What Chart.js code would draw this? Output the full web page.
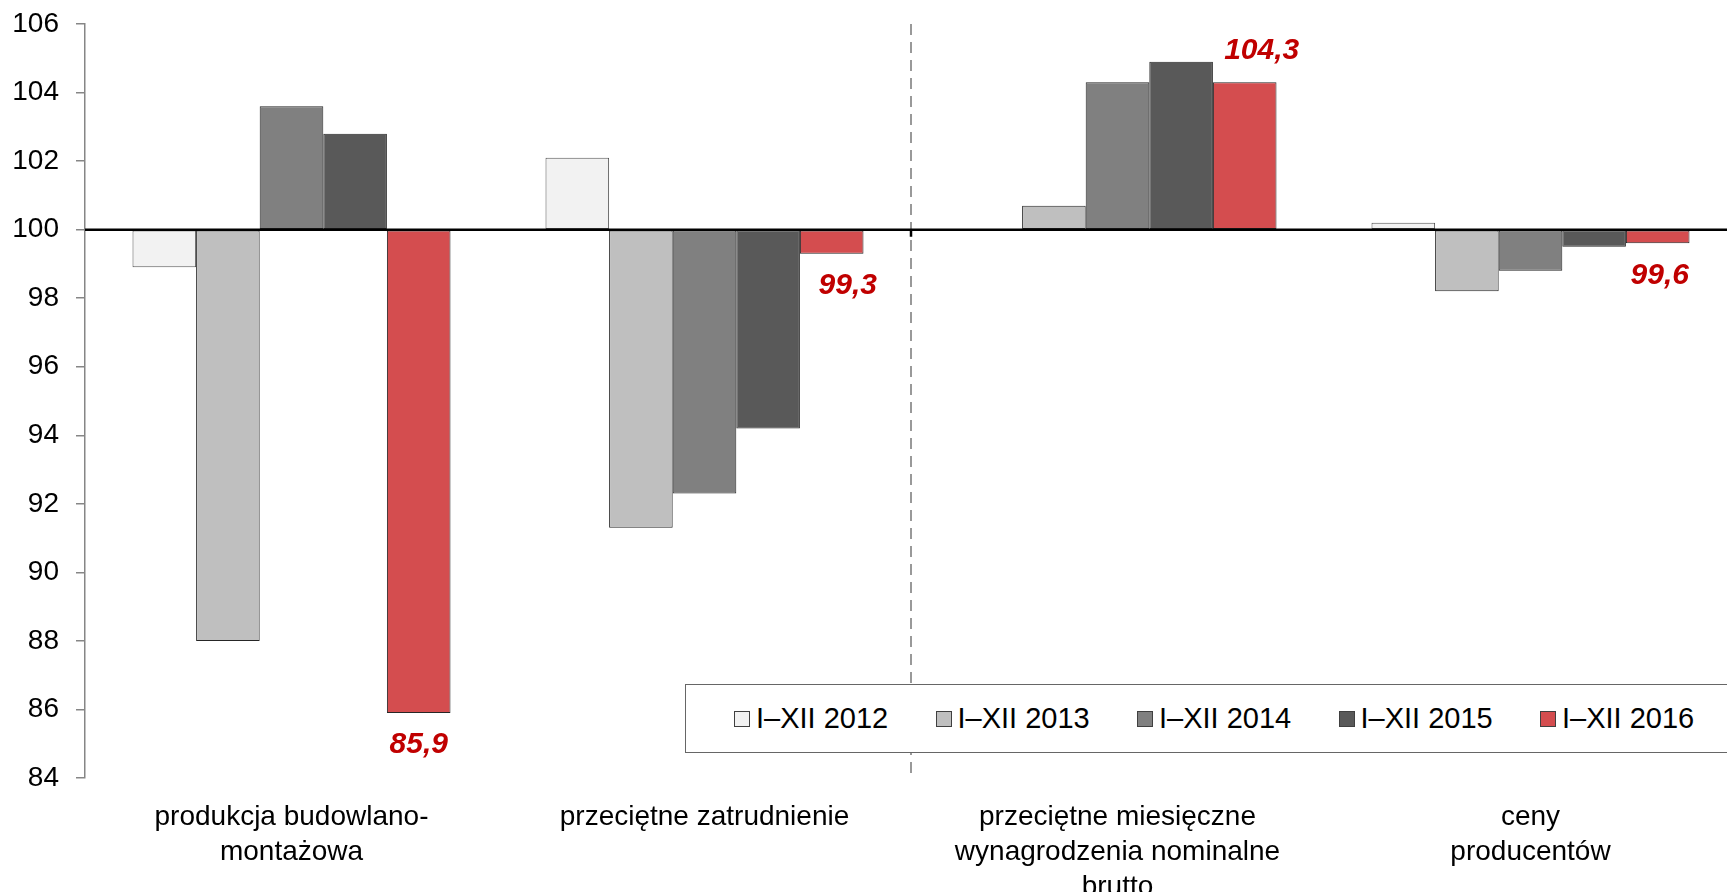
<!DOCTYPE html>
<html>
<head>
<meta charset="utf-8">
<script src="https://cdn.jsdelivr.net/npm/chart.js@4.4.1/dist/chart.umd.min.js"></script>
<style>
  html, body { margin: 0; padding: 0; background: #fff; overflow: hidden; }
  #wrap { position: relative; width: 1740px; height: 892px; }
  #legend {
    position: absolute; left: 685px; top: 684px; width: 1060px; height: 69px;
    border: 1.5px solid #666; border-right: none; background: #fff; box-sizing: border-box;
    font: 29px "Liberation Sans", Arial, sans-serif; color: #000;
  }
  .item { position: absolute; top: 0; height: 100%; display: flex; align-items: center; white-space: nowrap; }
  .sw { width: 14px; height: 14px; border: 1px solid #404040; margin-right: 6px; }
</style>
</head>
<body>
<div id="wrap">
  <canvas id="chart" width="1740" height="892"></canvas>
  <div id="legend"></div>
</div>
<script>
// categories (x axis labels, split into lines)
const categories = [
  ["produkcja budowlano-", "montażowa"],
  ["przeciętne zatrudnienie"],
  ["przeciętne miesięczne", "wynagrodzenia nominalne", "brutto"],
  ["ceny", "producentów"],
];

const seriesNames = ["I–XII 2012", "I–XII 2013", "I–XII 2014", "I–XII 2015", "I–XII 2016"];

// values per year (previous year = 100)
const y2012 = [98.9, 102.1, 100.0, 100.2];
const y2013 = [88.0, 91.3, 100.7, 98.2];
const y2014 = [103.6, 92.3, 104.3, 98.8];
const y2015 = [102.8, 94.2, 104.9, 99.5];
const y2016 = [85.9, 99.3, 104.3, 99.6];

const yTicksMin = 84;
const yTicksMax = 106;
const baseValue = 100;

const colors = ["#F2F2F2", "#BFBFBF", "#808080", "#595959", "#D44D4F"];
const font = '"Liberation Sans", Arial, sans-serif';

// build datasets
const allValues = [y2012, y2013, y2014, y2015, y2016];
const datasets = allValues.map((vals, i) => ({
  label: seriesNames[i],
  data: vals,
  base: baseValue,
  backgroundColor: colors[i],
  borderColor: i == 0 ? "#555" : "#262626",
  borderWidth: 1,
  borderSkipped: false,
  barPercentage: 1,
  categoryPercentage: 0.77,
}));

// dashed separator, baseline at 100 and the red value labels
const extras = {
  id: "extras",
  beforeDatasetsDraw(chart) {
    const { ctx, chartArea, scales } = chart;
    const xs = (scales.x.getPixelForValue(1) + scales.x.getPixelForValue(2)) / 2;
    ctx.save();
    ctx.strokeStyle = "#999";
    ctx.lineWidth = 2;
    ctx.setLineDash([11, 7]);
    ctx.beginPath();
    ctx.moveTo(xs, chartArea.top);
    ctx.lineTo(xs, chartArea.bottom);
    ctx.stroke();
    ctx.restore();
  },
  afterDatasetsDraw(chart) {
    const { ctx, chartArea, scales } = chart;
    const y0 = scales.y.getPixelForValue(baseValue);
    const xs = (scales.x.getPixelForValue(1) + scales.x.getPixelForValue(2)) / 2;
    ctx.save();
    ctx.strokeStyle = "#000";
    ctx.lineWidth = 2.5;
    ctx.beginPath();
    ctx.moveTo(chartArea.left, y0);
    ctx.lineTo(chartArea.right, y0);
    ctx.moveTo(xs, y0);
    ctx.lineTo(xs, y0 + 7);
    ctx.stroke();

    // labels for the last series
    const meta = chart.getDatasetMeta(4);
    const dx = [0, 16, 17, 2];
    ctx.fillStyle = "#C00000";
    ctx.font = "italic bold 30px " + font;
    ctx.textAlign = "center";
    ctx.textBaseline = "middle";
    meta.data.forEach((bar, i) => {
      const v = y2016[i];
      const ty = v >= baseValue ? bar.y - 32 : bar.y + 32;
      ctx.fillText(v.toFixed(1).replace(".", ","), bar.x + dx[i], ty);
    });
    ctx.restore();
  },
};

const chart = new Chart(document.getElementById("chart"), {
  type: "bar",
  data: { labels: categories, datasets: datasets },
  options: {
    responsive: false,
    animation: false,
    devicePixelRatio: 1,
    layout: { padding: { top: 24, right: 3, left: 0, bottom: 0 } },
    plugins: {
      legend: { display: false },
      tooltip: { enabled: false },
    },
    scales: {
      x: {
        grid: { display: false },
        border: { display: false },
        ticks: {
          color: "#000",
          font: { family: font, size: 28, lineHeight: 1.24 },
          padding: 14,
          maxRotation: 0,
          autoSkip: false,
        },
        afterFit: (s) => { s.height = 114; s.paddingLeft = 0; s.paddingRight = 0; },
      },
      y: {
        min: yTicksMin,
        max: yTicksMax,
        grid: { drawOnChartArea: false, color: "#868686", lineWidth: 1.5, tickLength: 9 },
        border: { color: "#868686", width: 1.5 },
        ticks: {
          stepSize: 2,
          color: "#000",
          font: { family: font, size: 28 },
          padding: 17,
        },
        afterFit: (s) => { s.width = 85; s.paddingTop = 0; s.paddingBottom = 0; },
      },
    },
  },
  plugins: [extras],
});

// legend box drawn as html, built from the datasets
const legendDiv = document.getElementById("legend");
datasets.forEach((ds, i) => {
  const item = document.createElement("div");
  item.className = "item";
  item.style.left = (48 + i * 201.5) + "px";
  item.innerHTML = '<span class="sw" style="background:' + ds.backgroundColor + '"></span>' + ds.label;
  legendDiv.appendChild(item);
});
</script>
</body>
</html>
